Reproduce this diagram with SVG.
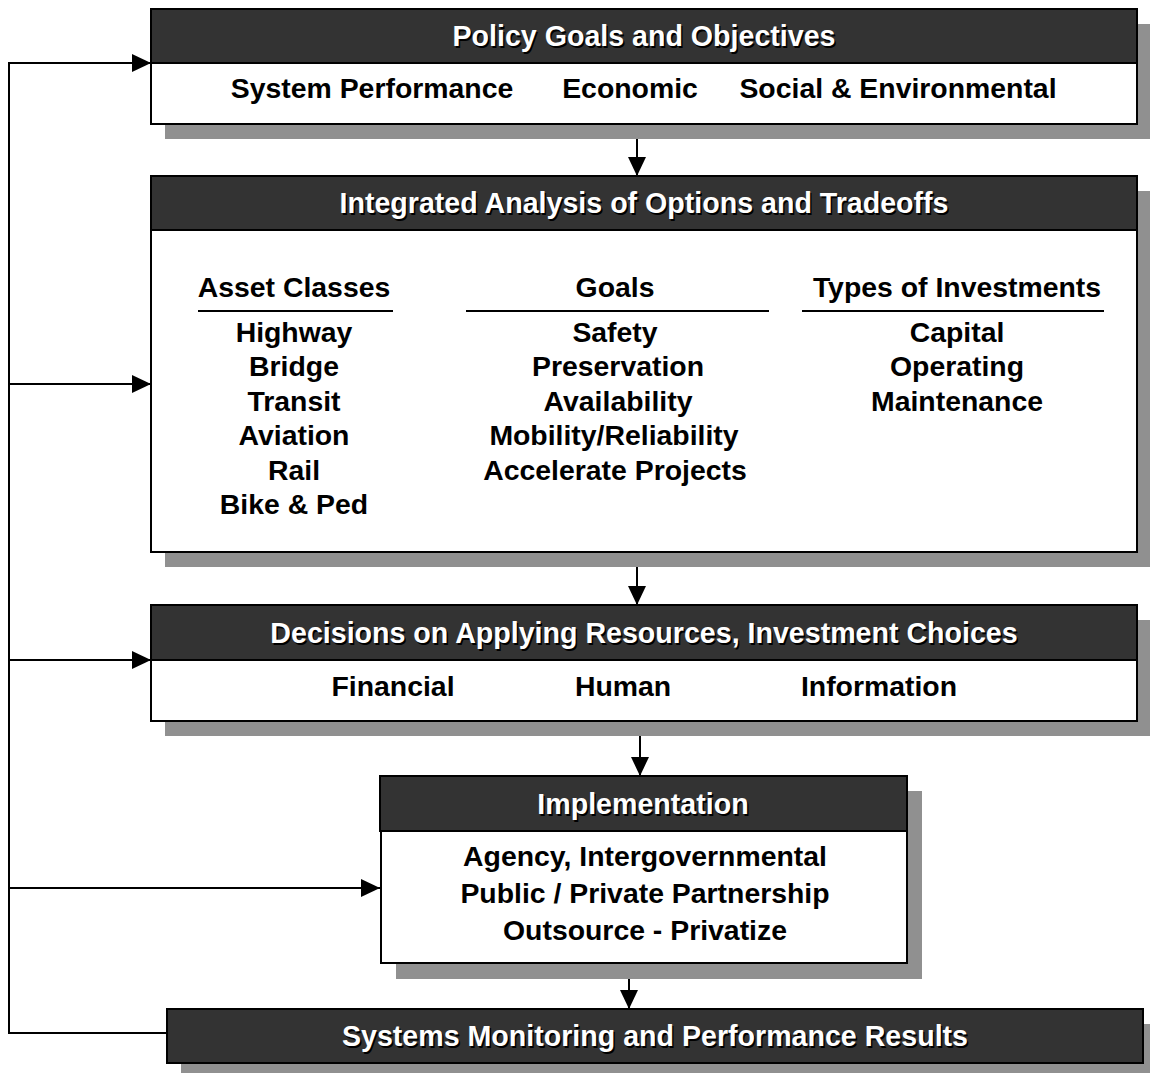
<svg xmlns="http://www.w3.org/2000/svg" width="1150" height="1073" viewBox="0 0 1150 1073">
<defs>
<style>
.sh{fill:#909090}
.hd{fill:#333333;stroke:#000;stroke-width:2}
.bd{fill:#fff;stroke:#000;stroke-width:2}
.ht{font-family:"Liberation Sans",Arial,sans-serif;font-weight:bold;font-size:28.6px;fill:#fff;text-anchor:middle}
.hs{font-family:"Liberation Sans",Arial,sans-serif;font-weight:bold;font-size:28.6px;fill:#000;text-anchor:middle}
.t{font-family:"Liberation Sans",Arial,sans-serif;font-weight:bold;font-size:28.4px;fill:#000;text-anchor:middle}
.ln{fill:none;stroke:#000;stroke-width:2}
</style>
<marker id="ah" viewBox="0 0 19 18" refX="19" refY="9" markerWidth="19" markerHeight="18" orient="auto" markerUnits="userSpaceOnUse">
<path d="M0,0 L19,9 L0,18 Z" fill="#000"/>
</marker>
</defs>
<rect width="1150" height="1073" fill="#fff"/>

<g id="connectors">
<path class="ln" d="M167,1033 H9 V63 H151" marker-end="url(#ah)"/>
<path class="ln" d="M9,384 H151" marker-end="url(#ah)"/>
<path class="ln" d="M9,660 H151" marker-end="url(#ah)"/>
<path class="ln" d="M9,888 H380" marker-end="url(#ah)"/>
<path class="ln" d="M637,139 V176" marker-end="url(#ah)"/>
<path class="ln" d="M637,567 V605" marker-end="url(#ah)"/>
<path class="ln" d="M640,736 V776" marker-end="url(#ah)"/>
<path class="ln" d="M629,979 V1009" marker-end="url(#ah)"/>
</g>

<g id="policy">
<rect class="sh" x="165" y="24" width="986" height="115"/>
<rect class="bd" x="151" y="63" width="986" height="61"/>
<rect class="hd" x="151" y="9" width="986" height="54"/>
<text class="hs" x="645.5" y="47.5">Policy Goals and Objectives</text>
<text class="ht" x="644" y="46">Policy Goals and Objectives</text>
<text class="t" x="372" y="98">System Performance</text>
<text class="t" x="630" y="98">Economic</text>
<text class="t" x="898" y="98">Social &amp; Environmental</text>
</g>

<g id="analysis">
<rect class="sh" x="165" y="191" width="986" height="376"/>
<rect class="bd" x="151" y="230" width="986" height="322"/>
<rect class="hd" x="151" y="176" width="986" height="54"/>
<text class="hs" x="645.5" y="214.5">Integrated Analysis of Options and Tradeoffs</text>
<text class="ht" x="644" y="213">Integrated Analysis of Options and Tradeoffs</text>
<text class="t" x="294" y="297">Asset Classes</text>
<text class="t" x="615" y="297">Goals</text>
<text class="t" x="957" y="297">Types of Investments</text>
<path class="ln" d="M198,311 H393 M466,311 H769 M802,311 H1104"/>
<text class="t" x="294" y="342">Highway</text>
<text class="t" x="294" y="376">Bridge</text>
<text class="t" x="294" y="411">Transit</text>
<text class="t" x="294" y="445">Aviation</text>
<text class="t" x="294" y="480">Rail</text>
<text class="t" x="294" y="514">Bike &amp; Ped</text>
<text class="t" x="615" y="342">Safety</text>
<text class="t" x="618" y="376">Preservation</text>
<text class="t" x="618" y="411">Availability</text>
<text class="t" x="614" y="445">Mobility/Reliability</text>
<text class="t" x="615" y="480">Accelerate Projects</text>
<text class="t" x="957" y="342">Capital</text>
<text class="t" x="957" y="376">Operating</text>
<text class="t" x="957" y="411">Maintenance</text>
</g>

<g id="decisions">
<rect class="sh" x="165" y="620" width="986" height="116"/>
<rect class="bd" x="151" y="660" width="986" height="61"/>
<rect class="hd" x="151" y="605" width="986" height="55"/>
<text class="hs" x="645.5" y="644.5">Decisions on Applying Resources, Investment Choices</text>
<text class="ht" x="644" y="643">Decisions on Applying Resources, Investment Choices</text>
<text class="t" x="393" y="696">Financial</text>
<text class="t" x="623" y="696">Human</text>
<text class="t" x="879" y="696">Information</text>
</g>

<g id="implementation">
<rect class="sh" x="396" y="791" width="526" height="188"/>
<rect class="bd" x="381" y="831" width="526" height="132"/>
<rect class="hd" x="380" y="776" width="527" height="55"/>
<text class="hs" x="644.5" y="815.5">Implementation</text>
<text class="ht" x="643" y="814">Implementation</text>
<text class="t" x="645" y="866">Agency, Intergovernmental</text>
<text class="t" x="645" y="903">Public / Private Partnership</text>
<text class="t" x="645" y="940">Outsource - Privatize</text>
</g>

<g id="monitoring">
<rect class="sh" x="181" y="1024" width="976" height="60"/>
<rect class="hd" x="167" y="1009" width="976" height="54"/>
<text class="hs" x="656.5" y="1047.5">Systems Monitoring and Performance Results</text>
<text class="ht" x="655" y="1046">Systems Monitoring and Performance Results</text>
</g>
</svg>
